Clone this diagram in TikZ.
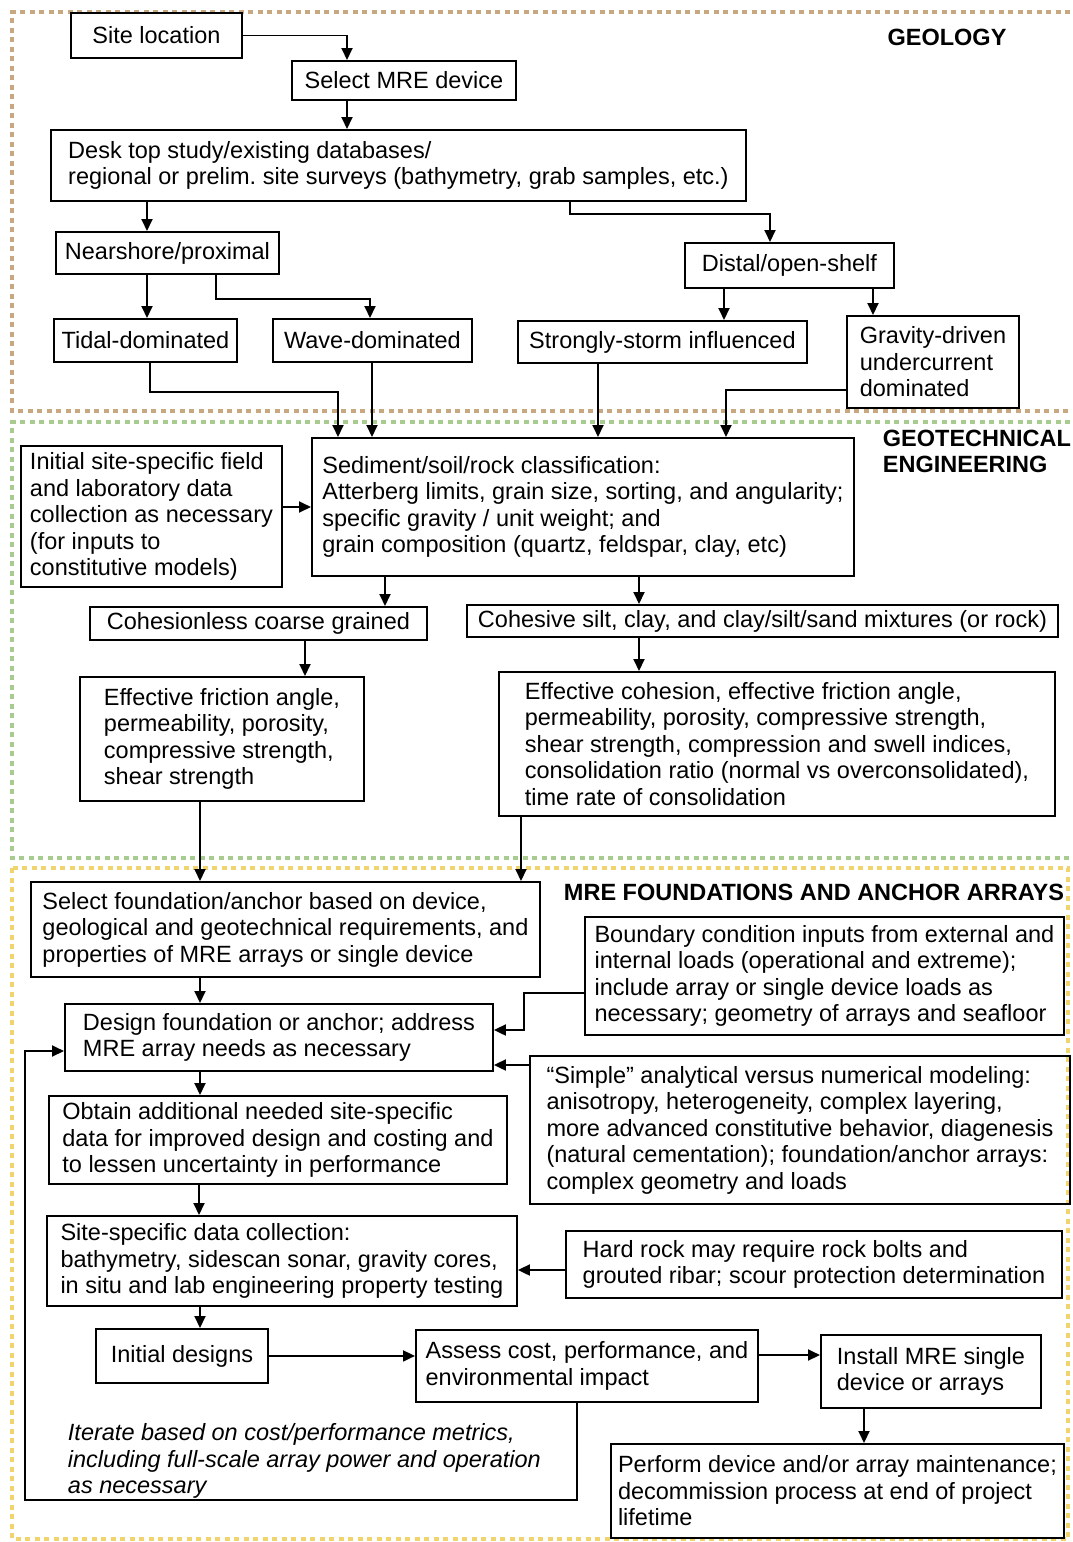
\documentclass[tikz,border=0pt]{standalone}
\usepackage{fontspec}
\setmainfont{Liberation Sans}
\usetikzlibrary{arrows.meta}
\frenchspacing

\definecolor{geolcol}{RGB}{200,168,128}
\definecolor{geotcol}{RGB}{168,204,144}
\definecolor{mrecol}{RGB}{242,212,110}

\begin{document}
\begin{tikzpicture}[x=1pt, y=-1pt, line width=1.9pt,
    every node/.style={font=\fontsize{23.5}{26.5}\selectfont},
    box/.style={draw, anchor=north west, align=left, inner xsep=0pt, inner ysep=0pt},
    cbox/.style={box, align=center},
    arr/.style={-{Triangle[length=12pt,width=11pt]}},
    head/.style={font=\fontsize{23.5}{26.5}\selectfont\bfseries, align=left, inner sep=0pt},
    zone/.style={line width=4.5pt, dash pattern=on 5pt off 4.5pt}]
    \useasboundingbox (0,0) rectangle (1073,1542);

    % Dotted zones
    \draw[zone, geolcol] (1070,12) -- (12,12) -- (12,411) -- (1070,411);
    \draw[zone, geotcol] (1070,422) -- (12,422) -- (12,858) -- (1070,858);
    \draw[zone, mrecol] (12,868) rectangle (1068,1539);

    % Zone titles
    \node[head] (geolhead) at (947,37) {GEOLOGY};
    \node[head, anchor=north west] (geothead) at (882,429) {GEOTECHNICAL\\ENGINEERING};
    \node[head] (mrehead) at (814,892) {MRE FOUNDATIONS AND ANCHOR ARRAYS};

    % Geology
    \node[cbox, minimum width=171pt, minimum height=45pt] (site) at (70,12) {Site location};
    \node[cbox, minimum width=224pt, minimum height=39pt] (mre) at (291,60) {Select MRE device};
    \node[box, minimum width=695pt, minimum height=71pt] (desk) at (50,129) {Desk top study/existing databases/\\regional or prelim. site surveys (bathymetry, grab samples, etc.)};
    \node[cbox, minimum width=223pt, minimum height=42pt] (near) at (55,231) {Nearshore/proximal};
    \node[cbox, minimum width=209pt, minimum height=45pt] (distal) at (684,242) {Distal/open-shelf};
    \node[cbox, minimum width=183pt, minimum height=43pt] (tidal) at (53,318) {Tidal-dominated};
    \node[cbox, minimum width=199pt, minimum height=43pt] (wave) at (272,318) {Wave-dominated};
    \node[cbox, minimum width=289pt, minimum height=42pt] (storm) at (517,320) {Strongly-storm influenced};
    \node[box, minimum width=172pt, minimum height=92pt] (grav) at (846,315) {Gravity-driven\\undercurrent\\dominated};

    \draw[arr] (site.east) -| (mre.north -| 347,0);
    \draw[arr] (mre.south -| 347,0) -- (desk.north -| 347,0);
    \draw[arr] (desk.south -| 147,0) -- (near.north -| 147,0);
    \draw[arr] (desk.south -| 570,0) -- ++(0,12) -| (distal.north -| 770,0);
    \draw[arr] (near.south -| 147,0) -- (tidal.north -| 147,0);
    \draw[arr] (near.south -| 216,0) -- ++(0,24) -| (wave.north -| 370,0);
    \draw[arr] (distal.south -| 724,0) -- (storm.north -| 724,0);
    \draw[arr] (distal.south -| 873,0) -- (grav.north -| 873,0);

    % Geotechnical engineering
    \node[box, minimum width=261pt, minimum height=141pt] (init) at (20,445) {Initial site-specific field\\and laboratory data\\collection as necessary\\(for inputs to\\constitutive models)};
    \node[box, minimum width=542pt, minimum height=138pt] (sed) at (311,437) {Sediment/soil/rock classification:\\Atterberg limits, grain size, sorting, and angularity;\\specific gravity / unit weight; and\\grain composition (quartz, feldspar, clay, etc)};
    \node[cbox, minimum width=337pt, minimum height=33pt] (cohl) at (89,606) {Cohesionless coarse grained};
    \node[cbox, minimum width=591pt, minimum height=32pt] (cohs) at (466,604) {Cohesive silt, clay, and clay/silt/sand mixtures (or rock)};
    \node[box, minimum width=284pt, minimum height=124pt] (frict) at (79,676) {Effective friction angle,\\permeability, porosity,\\compressive strength,\\shear strength};
    \node[box, minimum width=556pt, minimum height=144pt] (cohes) at (498,671) {Effective cohesion, effective friction angle,\\permeability, porosity, compressive strength,\\shear strength, compression and swell indices,\\consolidation ratio (normal vs overconsolidated),\\time rate of consolidation};

    \draw[arr] (tidal.south -| 150,0) -- ++(0,29) -| (sed.north -| 338,0);
    \draw[arr] (wave.south -| 372,0) -- (sed.north -| 372,0);
    \draw[arr] (storm.south -| 598,0) -- (sed.north -| 598,0);
    \draw[arr] (grav.west |- 0,390) -| (sed.north -| 726,0);
    \draw[arr] (init.east |- 0,507) -- (sed.west |- 0,507);
    \draw[arr] (sed.south -| 385,0) -- (cohl.north -| 385,0);
    \draw[arr] (sed.south -| 639,0) -- (cohs.north -| 639,0);
    \draw[arr] (cohl.south -| 305,0) -- (frict.north -| 305,0);
    \draw[arr] (cohs.south -| 639,0) -- (cohes.north -| 639,0);

    % MRE foundations and anchor arrays
    \node[box, minimum width=509pt, minimum height=95pt] (found) at (30,881) {Select foundation/anchor based on device,\\geological and geotechnical requirements, and\\properties of MRE arrays or single device};
    \node[box, minimum width=479pt, minimum height=118pt] (bound) at (584,916) {Boundary condition inputs from external and\\internal loads (operational and extreme);\\include array or single device loads as\\necessary; geometry of arrays and seafloor};
    \node[box, minimum width=428pt, minimum height=67pt] (design) at (64,1003) {Design foundation or anchor; address\\MRE array needs as necessary};
    \node[box, minimum width=540pt, minimum height=148pt] (simple) at (529,1055) {“Simple” analytical versus numerical modeling:\\anisotropy, heterogeneity, complex layering,\\more advanced constitutive behavior, diagenesis\\(natural cementation); foundation/anchor arrays:\\complex geometry and loads};
    \node[box, minimum width=458pt, minimum height=88pt] (obtain) at (48,1095) {Obtain additional needed site-specific\\data for improved design and costing and\\to lessen uncertainty in performance};
    \node[box, minimum width=470pt, minimum height=90pt] (sitedata) at (46,1215) {Site-specific data collection:\\bathymetry, sidescan sonar, gravity cores,\\in situ and lab engineering property testing};
    \node[box, minimum width=496pt, minimum height=67pt] (hard) at (565,1230) {Hard rock may require rock bolts and\\grouted ribar; scour protection determination};
    \node[cbox, minimum width=172pt, minimum height=54pt] (initdes) at (95,1328) {Initial designs};
    \node[box, minimum width=342pt, minimum height=72pt] (assess) at (415,1329) {Assess cost, performance, and\\environmental impact};
    \node[box, minimum width=220pt, minimum height=73pt] (install) at (820,1334) {Install MRE single\\device or arrays};
    \node[box, minimum width=453pt, minimum height=94pt] (perf) at (610,1443) {Perform device and/or array maintenance;\\decommission process at end of project\\lifetime};
    \node[anchor=north west, align=left, inner sep=0pt, font=\fontsize{23.5}{26.5}\selectfont\itshape] (iter) at (67,1423) {Iterate based on cost/performance metrics,\\including full-scale array power and operation\\as necessary};

    \draw[arr] (frict.south -| 200,0) -- (found.north -| 200,0);
    \draw[arr] (cohes.south -| 521,0) -- (found.north -| 521,0);
    \draw[arr] (found.south -| 200,0) -- (design.north -| 200,0);
    \draw[arr] (bound.west |- 0,993) -- ++(-60,0) |- (design.east |- 0,1030);
    \draw[arr] (simple.west |- 0,1065) -- (design.east |- 0,1065);
    \draw[arr] (design.south -| 200,0) -- (obtain.north -| 200,0);
    \draw[arr] (obtain.south -| 199,0) -- (sitedata.north -| 199,0);
    \draw[arr] (hard.west |- 0,1270) -- (sitedata.east |- 0,1270);
    \draw[arr] (sitedata.south -| 200,0) -- (initdes.north -| 200,0);
    \draw[arr] (initdes.east) -- (assess.west |- initdes.east);
    \draw[arr] (assess.east |- 0,1355) -- (install.west |- 0,1355);
    \draw[arr] (install.south -| 864,0) -- (perf.north -| 864,0);
    \draw[arr] (assess.south -| 577,0) |- (25,1500) |- (design.west |- 0,1051);
\end{tikzpicture}
\end{document}
